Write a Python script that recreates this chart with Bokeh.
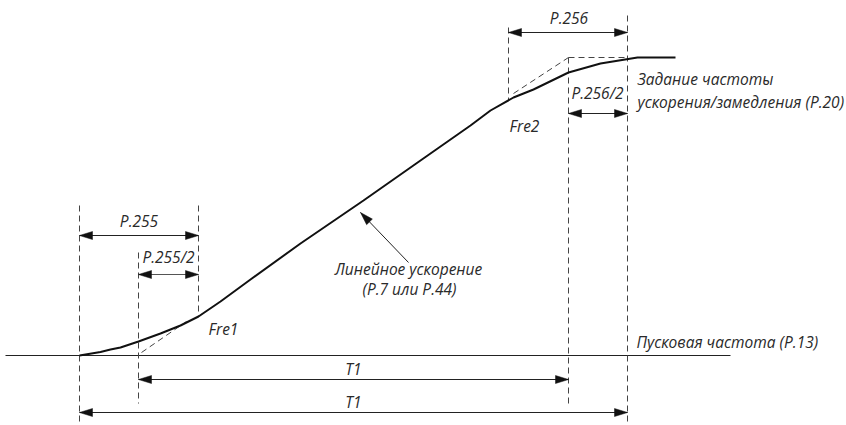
import math
from bokeh.plotting import figure
from bokeh.models import Range1d
from bokeh.core.properties import value
from bokeh.embed import file_html
from bokeh.resources import INLINE

# ---- diagram data (positions) ----
# time markers
t_start, t_half1, t_s1 = 79, 138, 198
t_s2, t_half2, t_end = 508, 568, 627
# frequency levels
f_start, f_target = 355, 57

# S-curve
curve_x = [79, 100, 110, 120, 138, 160, 180, 198, 220, 250, 300, 363, 420, 470, 490, 513, 533, 568, 600, 637, 675]
curve_y = [355, 351.5, 349, 347, 341, 333, 325, 316, 301, 279, 243, 200, 160, 125, 110, 97, 89, 72, 63, 57, 57]

# start-frequency baseline
base_x = [5, 730]

# vertical dashed guide lines: x, top, bottom
guide_x = [79, 138, 198, 508, 568, 627]
guide_top = [205, 252, 205, 27, 57, 15]
guide_bot = [425, 403, 316, 100, 403, 425]

# dashed linear-acceleration helper lines
helper_x = [[141, 186], [513, 568], [568, 627]]
helper_y = [[352, 321], [93, 57], [57, 57]]

# dimension arrows (double headed): x0, x1, y
dim_x0 = [79, 138, 138, 79, 508, 568]
dim_x1 = [198, 198, 568, 627, 627, 627]
dim_y = [235, 274, 379, 412, 32, 113]
dim_col = ["#222222", "#555555", "#222222", "#222222", "#222222", "#222222"]

# pointer arrow (start -> tip)
ptr = (408, 262, 360, 212)

# labels
lab_text = ["P.255", "P.255/2", "Fre1", "P.256", "P.256/2", "Fre2",
            "Линейное ускорение", "(P.7 или P.44)", "T1", "T1"]
lab_x = [138.5, 168, 223, 568.5, 597, 524, 408, 409, 353, 353]
lab_y = [220, 256.5, 328, 17, 92, 125, 268, 288, 368, 401]

left_text = ["Задание частоты", "ускорения/замедления (P.20)", "Пусковая частота (P.13)"]
left_x = [637, 637, 636]
left_y = [78, 101, 341]

W, H = 846, 425
p = figure(width=W, height=H, output_backend="svg", toolbar_location=None,
           x_range=Range1d(0, W), y_range=Range1d(H, 0),
           min_border=0)
p.axis.visible = False
p.grid.visible = False
p.outline_line_color = None
p.background_fill_color = "white"
p.border_fill_color = "white"

# baseline
p.line(base_x, [f_start, f_start], line_color="#222222", line_width=1.2)

# guides
p.segment(x0=guide_x, y0=guide_top, x1=guide_x, y1=guide_bot,
          line_color="#444444", line_width=1, line_dash="6 4")

# helper dashed lines
p.multi_line(helper_x, helper_y, line_color="#444444", line_width=1, line_dash="6 4")

# main curve
p.line(curve_x, curve_y, line_color="#111111", line_width=2)

# arrow heads helper
HL, HW = 13, 4


def head(xt, yt, xf, yf):
    dx, dy = xt - xf, yt - yf
    L = math.hypot(dx, dy)
    ux, uy = dx / L, dy / L
    bx, by = xt - ux * HL, yt - uy * HL
    px, py = -uy, ux
    return [xt, bx + px * HW, bx - px * HW], [yt, by + py * HW, by - py * HW]


hx, hy, hc = [], [], []
for x0, x1, y, c in zip(dim_x0, dim_x1, dim_y, dim_col):
    p.segment(x0=[x0], y0=[y], x1=[x1], y1=[y], line_color=c, line_width=1.2)
    a = head(x0, y, x1, y)
    b = head(x1, y, x0, y)
    hx += [a[0], b[0]]
    hy += [a[1], b[1]]
    hc += ["#111111", "#111111"]

p.segment(x0=[ptr[0]], y0=[ptr[1]], x1=[ptr[2]], y1=[ptr[3]], line_color="#222222", line_width=1)
a = head(ptr[2], ptr[3], ptr[0], ptr[1])
hx.append(a[0]); hy.append(a[1]); hc.append("#111111")

p.patches(hx, hy, fill_color=hc, line_color=hc, line_width=0.5)

FONT = value("Open Sans")
p.text(x=lab_x, y=lab_y, text=lab_text, text_font=FONT, text_font_size="15.5px",
       text_font_style="italic", text_color="#2a2a2a",
       text_align="center", text_baseline="middle")
p.text(x=left_x, y=left_y, text=left_text, text_font=FONT, text_font_size="15.5px",
       text_font_style="italic", text_color="#2a2a2a",
       text_align="left", text_baseline="middle")

open("out.html", "w").write(file_html(p, INLINE))
